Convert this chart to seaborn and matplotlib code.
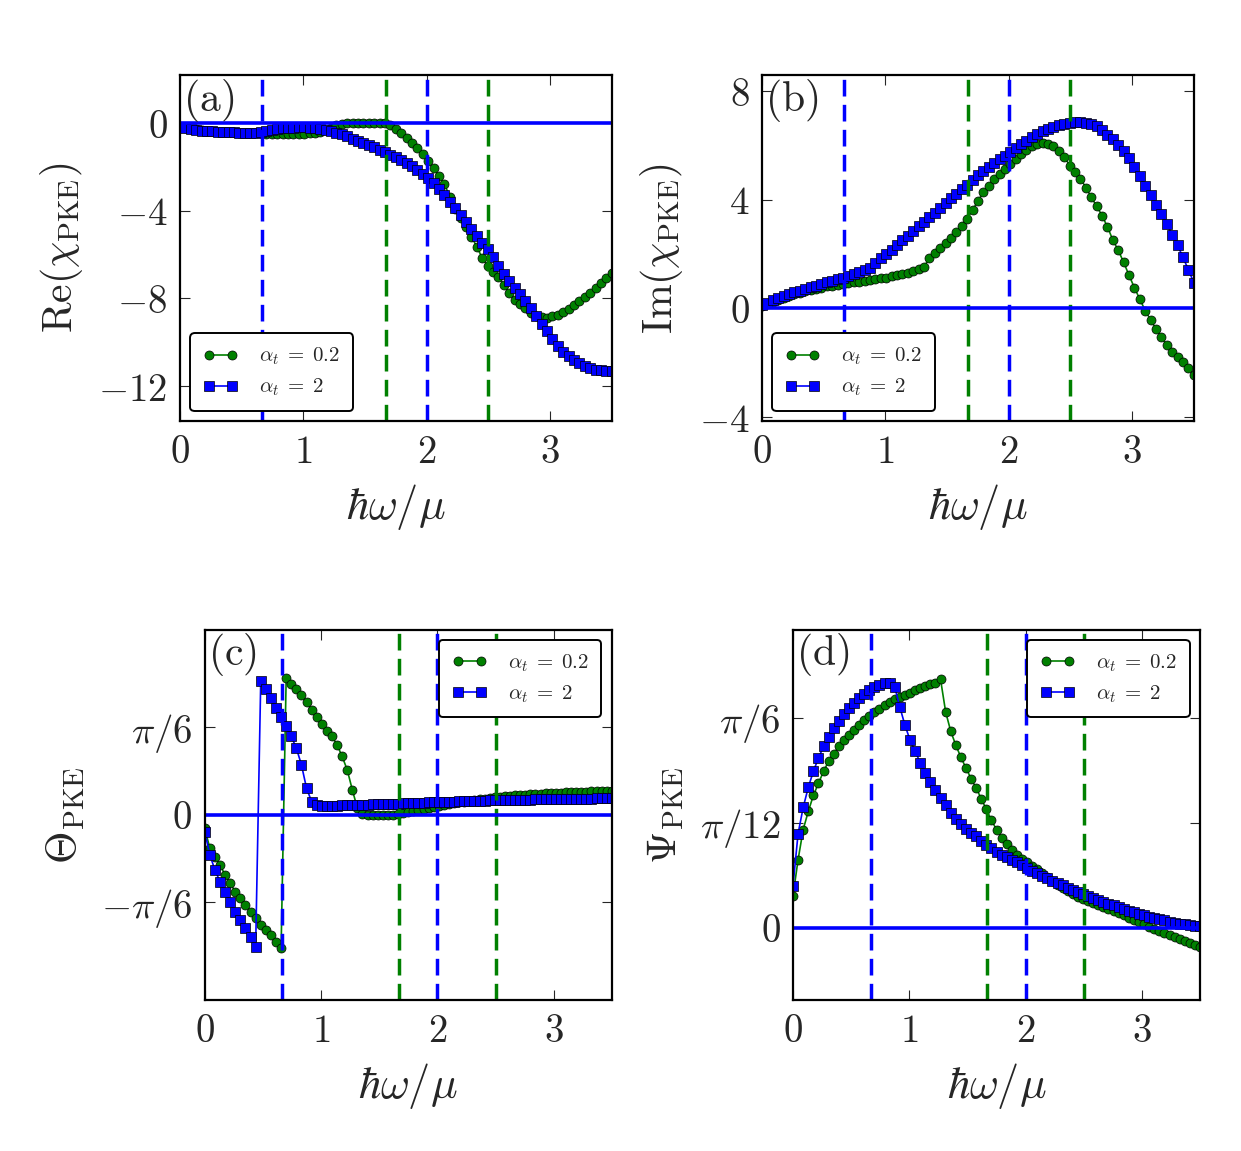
import numpy as np
import pandas as pd
import matplotlib
matplotlib.use('Agg')
import matplotlib.pyplot as plt
import seaborn as sns

# frequency grid hbar*omega/mu
x_vals = np.linspace(0, 3.5, 81)

# (a) Re(chi_PKE)
re_g = [-0.18, -0.22, -0.26, -0.29, -0.32, -0.35, -0.37, -0.39, -0.41, -0.42,
        -0.43, -0.44, -0.45, -0.46, -0.46, -0.47, -0.50, -0.51, -0.52, -0.52,
        -0.52, -0.51, -0.50, -0.49, -0.47, -0.44, -0.40, -0.32, -0.22, -0.10,
        -0.03, -0.01, 0.0, 0.0, 0.0, 0.0, 0.0, 0.0, 0.0, -0.10,
        -0.26, -0.45, -0.66, -0.90, -1.15, -1.42, -1.74, -2.07, -2.42, -2.80,
        -3.35, -3.90, -4.35, -4.75, -5.18, -5.65, -6.15, -6.50, -6.78, -7.02,
        -7.38, -7.75, -8.05, -8.26, -8.45, -8.64, -8.80, -8.86, -8.87, -8.82,
        -8.74, -8.63, -8.48, -8.32, -8.13, -7.95, -7.75, -7.53, -7.30, -7.07,
        -6.85]
re_b = [-0.20, -0.24, -0.28, -0.31, -0.34, -0.36, -0.38, -0.40, -0.41, -0.42,
        -0.43, -0.44, -0.44, -0.44, -0.44, -0.42, -0.37, -0.31, -0.27, -0.24,
        -0.22, -0.21, -0.20, -0.20, -0.21, -0.23, -0.26, -0.30, -0.36, -0.44,
        -0.52, -0.61, -0.71, -0.81, -0.91, -1.01, -1.11, -1.22, -1.33, -1.44,
        -1.56, -1.68, -1.82, -1.98, -2.15, -2.32, -2.52, -2.74, -2.99, -3.27,
        -3.58, -3.89, -4.18, -4.50, -4.82, -5.15, -5.45, -5.76, -6.10, -6.52,
        -6.88, -7.20, -7.50, -7.80, -8.10, -8.45, -8.80, -9.15, -9.50, -9.85,
        -10.18, -10.42, -10.62, -10.80, -10.95, -11.08, -11.18, -11.24, -11.28, -11.30,
        -11.30]

# (b) Im(chi_PKE)
im_g = [0.08, 0.17, 0.25, 0.33, 0.40, 0.47, 0.53, 0.58, 0.63, 0.68,
        0.73, 0.77, 0.81, 0.84, 0.87, 0.90, 0.93, 0.96, 0.99, 1.02,
        1.05, 1.08, 1.11, 1.14, 1.18, 1.22, 1.27, 1.32, 1.38, 1.44,
        1.52, 1.86, 2.05, 2.24, 2.42, 2.61, 2.82, 3.05, 3.30, 3.62,
        3.96, 4.27, 4.52, 4.76, 4.96, 5.14, 5.30, 5.50, 5.70, 5.85,
        5.97, 6.05, 6.09, 6.07, 5.97, 5.80, 5.58, 5.26, 5.02, 4.78,
        4.45, 4.10, 3.76, 3.42, 3.00, 2.52, 2.14, 1.70, 1.22, 0.76,
        0.34, -0.08, -0.42, -0.76, -1.05, -1.36, -1.60, -1.80, -1.98, -2.20,
        -2.45]
im_b = [0.12, 0.22, 0.30, 0.38, 0.46, 0.53, 0.60, 0.66, 0.72, 0.78,
        0.84, 0.90, 0.96, 1.01, 1.07, 1.13, 1.19, 1.26, 1.33, 1.41,
        1.50, 1.68, 1.85, 2.01, 2.17, 2.34, 2.51, 2.68, 2.86, 3.03,
        3.20, 3.37, 3.53, 3.70, 3.87, 4.05, 4.22, 4.39, 4.56, 4.73,
        4.90, 5.07, 5.22, 5.36, 5.49, 5.62, 5.75, 5.90, 6.05, 6.18,
        6.30, 6.42, 6.52, 6.61, 6.69, 6.75, 6.80, 6.84, 6.86, 6.86,
        6.84, 6.79, 6.70, 6.57, 6.40, 6.22, 6.02, 5.80, 5.53, 5.22,
        4.86, 4.52, 4.17, 3.81, 3.46, 3.10, 2.72, 2.32, 1.88, 1.42,
        0.95]

# (c) Theta_PKE (rad)
th_g = [-0.08, -0.20, -0.25, -0.30, -0.36, -0.41, -0.46, -0.50, -0.54, -0.58,
        -0.62, -0.66, -0.69, -0.72, -0.76, -0.80, 0.82, 0.785, 0.755, 0.72,
        0.675, 0.63, 0.585, 0.545, 0.505, 0.47, 0.42, 0.35, 0.27, 0.15,
        0.04, 0.005, 0.0, 0.0, 0.0, 0.0, 0.0, 0.0, 0.003, 0.010,
        0.018, 0.025, 0.031, 0.037, 0.043, 0.049, 0.055, 0.060, 0.065, 0.070,
        0.075, 0.080, 0.085, 0.089, 0.093, 0.097, 0.101, 0.105, 0.108, 0.111,
        0.114, 0.117, 0.119, 0.121, 0.123, 0.125, 0.127, 0.129, 0.131, 0.132,
        0.134, 0.135, 0.136, 0.138, 0.139, 0.140, 0.141, 0.142, 0.143, 0.144,
        0.145]
th_b = [-0.10, -0.24, -0.33, -0.40, -0.46, -0.52, -0.58, -0.63, -0.68, -0.73,
        -0.79, 0.80, 0.755, 0.70, 0.64, 0.585, 0.53, 0.47, 0.40, 0.30,
        0.16, 0.08, 0.058, 0.055, 0.055, 0.055, 0.056, 0.057, 0.058, 0.059,
        0.060, 0.061, 0.062, 0.063, 0.064, 0.065, 0.066, 0.067, 0.068, 0.069,
        0.070, 0.071, 0.072, 0.074, 0.075, 0.076, 0.077, 0.078, 0.079, 0.080,
        0.081, 0.082, 0.083, 0.084, 0.085, 0.086, 0.087, 0.087, 0.088, 0.089,
        0.090, 0.090, 0.091, 0.092, 0.092, 0.093, 0.093, 0.094, 0.094, 0.095,
        0.095, 0.096, 0.096, 0.097, 0.097, 0.098, 0.098, 0.099, 0.099, 0.100,
        0.100]

# (d) Psi_PKE (rad)
ps_g = [0.08, 0.17, 0.245, 0.29, 0.33, 0.36, 0.39, 0.415, 0.434, 0.452,
        0.467, 0.481, 0.494, 0.506, 0.517, 0.527, 0.537, 0.546, 0.555, 0.562,
        0.569, 0.575, 0.581, 0.586, 0.592, 0.598, 0.603, 0.607, 0.611, 0.619,
        0.538, 0.490, 0.455, 0.425, 0.398, 0.372, 0.348, 0.322, 0.295, 0.268,
        0.245, 0.225, 0.208, 0.194, 0.182, 0.172, 0.163, 0.155, 0.147, 0.138,
        0.128, 0.118, 0.108, 0.099, 0.091, 0.084, 0.077, 0.071, 0.066, 0.061,
        0.056, 0.051, 0.046, 0.041, 0.036, 0.031, 0.025, 0.020, 0.014, 0.009,
        0.003, -0.002, -0.007, -0.012, -0.017, -0.022, -0.027, -0.033, -0.038, -0.043,
        -0.048]
ps_b = [0.105, 0.235, 0.30, 0.35, 0.39, 0.423, 0.452, 0.476, 0.498, 0.515,
        0.532, 0.547, 0.561, 0.572, 0.583, 0.592, 0.600, 0.605, 0.609, 0.611,
        0.600, 0.550, 0.505, 0.468, 0.440, 0.412, 0.386, 0.364, 0.343, 0.324,
        0.305, 0.287, 0.272, 0.258, 0.247, 0.237, 0.228, 0.217, 0.206, 0.198,
        0.189, 0.182, 0.176, 0.170, 0.163, 0.156, 0.149, 0.142, 0.136, 0.130,
        0.124, 0.118, 0.112, 0.106, 0.100, 0.094, 0.089, 0.084, 0.079, 0.074,
        0.069, 0.065, 0.060, 0.056, 0.051, 0.047, 0.043, 0.039, 0.035, 0.031,
        0.028, 0.025, 0.022, 0.019, 0.016, 0.013, 0.011, 0.009, 0.007, 0.005,
        0.004]

labels = [r'$\alpha_t\;=\;0.2$', r'$\alpha_t\;=\;2$']
xticks = [0, 1, 2, 3]
xtick_labels = [r'$0$', r'$1$', r'$2$', r'$3$']
vlines_blue = [2 / 3, 2.0]
vlines_green = [5 / 3, 2.5]

sns.set_style('ticks')
plt.rcParams['mathtext.fontset'] = 'cm'
plt.rcParams['font.family'] = ['serif']
plt.rcParams['font.serif'] = ['DejaVu Serif']
plt.rcParams['xtick.direction'] = 'in'
plt.rcParams['ytick.direction'] = 'in'
plt.rcParams['xtick.top'] = True
plt.rcParams['ytick.right'] = True

fig = plt.figure(figsize=(12.41, 11.51), dpi=100)
fig.patch.set_facecolor('white')

positions = [
    [0.145, 0.634, 0.348, 0.301],
    [0.614, 0.634, 0.348, 0.301],
    [0.165, 0.131, 0.328, 0.322],
    [0.639, 0.131, 0.328, 0.322],
]

panels = [
    dict(g=re_g, b=re_b, tag='(a)', ylabel=r'$\mathrm{Re}(\chi_{\mathrm{PKE}})$',
         yticks=[-12, -8, -4, 0], ytl=[r'$-12$', r'$-8$', r'$-4$', r'$0$'],
         ylim=(-13.6, 2.2), loc='lower left'),
    dict(g=im_g, b=im_b, tag='(b)', ylabel=r'$\mathrm{Im}(\chi_{\mathrm{PKE}})$',
         yticks=[-4, 0, 4, 8], ytl=[r'$-4$', r'$0$', r'$4$', r'$8$'],
         ylim=(-4.15, 8.6), loc='lower left'),
    dict(g=th_g, b=th_b, tag='(c)', ylabel=r'$\Theta_{\mathrm{PKE}}$',
         yticks=[-np.pi / 6, 0, np.pi / 6], ytl=[r'$-\pi/6$', r'$0$', r'$\pi/6$'],
         ylim=(-1.11, 1.11), loc='upper right'),
    dict(g=ps_g, b=ps_b, tag='(d)', ylabel=r'$\Psi_{\mathrm{PKE}}$',
         yticks=[0, np.pi / 12, np.pi / 6], ytl=[r'$0$', r'$\pi/12$', r'$\pi/6$'],
         ylim=(-0.18, 0.743), loc='upper right'),
]

for pos, p in zip(positions, panels):
    ax = fig.add_axes(pos)
    df = pd.DataFrame({'x': x_vals, 'g': p['g'], 'b': p['b']})
    sns.lineplot(data=df, x='x', y='g', ax=ax, color='g', marker='o', markersize=6.5,
                 markeredgecolor='k', markeredgewidth=0.5, linewidth=1.2,
                 label=labels[0], sort=False)
    sns.lineplot(data=df, x='x', y='b', ax=ax, color='b', marker='s', markersize=6.5,
                 markeredgecolor='k', markeredgewidth=0.5, linewidth=1.2,
                 label=labels[1], sort=False)
    for v in vlines_blue:
        ax.axvline(v, color='b', lw=2.5, dashes=(4.8, 2.4))
    for v in vlines_green:
        ax.axvline(v, color='g', lw=2.5, dashes=(4.8, 2.4))
    ax.axhline(0, color='b', lw=2.6)

    ax.set_xlim(0, 3.5)
    ax.set_ylim(*p['ylim'])
    ax.set_xticks(xticks)
    ax.set_xticklabels(xtick_labels)
    ax.set_yticks(p['yticks'])
    ax.set_yticklabels(p['ytl'])
    ax.tick_params(labelsize=28, length=7, width=0.8, pad=9)
    for s in ax.spines.values():
        s.set_linewidth(1.6)
        s.set_color('k')
    ax.set_xlabel(r'$\hbar\omega/\mu$', fontsize=32, labelpad=8)
    ax.set_ylabel(p['ylabel'], fontsize=30, labelpad=10)
    ax.text(0.008, 0.995, r'$\mathrm{' + p['tag'] + '}$', transform=ax.transAxes,
            fontsize=30, va='top', ha='left')
    leg = ax.legend(loc=p['loc'], fontsize=15, numpoints=2, handlelength=1.7,
                    fancybox=True, framealpha=1, borderpad=0.6, labelspacing=0.45,
                    handletextpad=1.0)
    leg.get_frame().set_edgecolor('k')
    leg.get_frame().set_linewidth(1.4)

fig.savefig('out.png', dpi=100, facecolor='white')
